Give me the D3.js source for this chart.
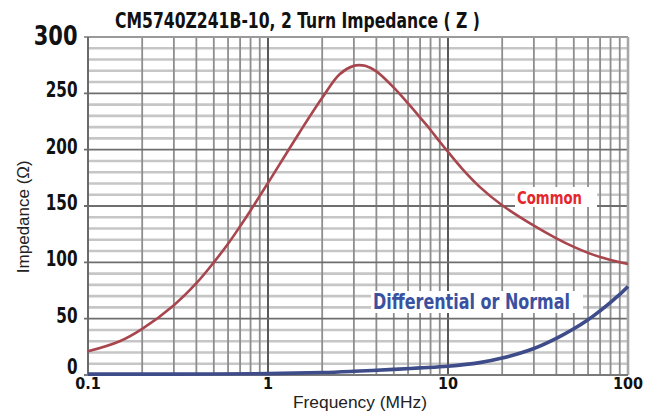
<!DOCTYPE html>
<html>
<head>
<meta charset="utf-8">
<script src="https://cdn.jsdelivr.net/npm/d3@7"></script>
<style>
  html, body { margin: 0; padding: 0; background: #fff; }
  svg { display: block; }
</style>
</head>
<body>
<svg id="chart" width="646" height="415"></svg>
<script>
// ---- data ----
const title = "CM5740Z241B-10, 2 Turn Impedance ( Z )";
const xTickValues = [0.1, 1, 10, 100];
const xTickLabels = ["0.1", "1", "10", "100"];
const yTickValues = [0, 50, 100, 150, 200, 250, 300];
const yTickLabels = ["0", "50", "100", "150", "200", "250", "300"];
const xAxisTitle = "Frequency (MHz)";
const yAxisTitle = "Impedance (\u03A9)";

const freqCommon = [0.1, 0.15, 0.2, 0.3, 0.4, 0.5, 0.6, 0.7, 0.8, 0.9, 1, 1.5, 2, 2.5, 3, 3.2, 3.5, 4, 5, 6, 7, 8, 9, 10, 12, 15, 20, 30, 40, 50, 60, 70, 80, 90, 100];
const common     = [21, 30, 41, 62, 81.5, 100, 116.5, 132, 146, 159, 170.5, 215.5, 246, 267, 274.4, 275, 274.2, 269.5, 255, 241, 228.5, 217.5, 207, 198, 183, 167, 150.6, 132.5, 121.3, 113.7, 108.4, 104.7, 102.1, 100.1, 98.5];

const freqDiff = [0.1, 0.3, 1, 2, 3, 5, 7, 10, 15, 20, 30, 40, 50, 60, 70, 80, 90, 100];
const diff     = [0.8, 0.8, 1.2, 2.2, 3.3, 5, 6.3, 7.8, 11, 15, 23.5, 32.5, 41, 49, 57, 64.5, 71.5, 78.5];

const seriesLabels = ["Common", "Differential or Normal"];

// ---- layout ----
const L = 88, R = 628, T = 37, B = 375;
const svg = d3.select("#chart");
const x = d3.scaleLog().domain([0.1, 100]).range([L, R]);
const y = d3.scaleLinear().domain([0, 300]).range([B, T]);

const NARROW = "'Liberation Sans Narrow', 'DejaVu Sans Condensed', 'Liberation Sans', sans-serif";
const SANS = "'Liberation Sans', Arial, sans-serif";

// ---- grid ----
const g = svg.append("g");
const hMinor = d3.range(0, 301, 10).filter(v => v % 50 !== 0);
const hMajor = d3.range(0, 301, 50);
const vAll = [];
[0.1, 1, 10].forEach(d => { for (let k = 1; k <= 9; k++) vAll.push(d * k); });
vAll.push(100);
const vMajor = [1, 10];
const vMinor = vAll.filter(v => ![0.1, 1, 10, 100].some(m => Math.abs(m - v) < 1e-9));

g.selectAll(".hmin").data(hMinor).join("line")
  .attr("x1", L).attr("x2", R).attr("y1", d => y(d)).attr("y2", d => y(d))
  .attr("stroke", "#c6c6c6").attr("stroke-width", 2.6);
g.selectAll(".vmin").data(vMinor).join("line")
  .attr("x1", d => x(d)).attr("x2", d => x(d)).attr("y1", T).attr("y2", B)
  .attr("stroke", "#8e8e8e").attr("stroke-width", 1.8);
g.selectAll(".vmaj").data(vMajor).join("line")
  .attr("x1", d => x(d)).attr("x2", d => x(d)).attr("y1", T).attr("y2", B)
  .attr("stroke", "#595959").attr("stroke-width", 2);
g.selectAll(".hmaj").data(hMajor.filter(v => v > 0 && v < 300)).join("line")
  .attr("x1", L - 4).attr("x2", R).attr("y1", d => y(d)).attr("y2", d => y(d))
  .attr("stroke", "#6e6e6e").attr("stroke-width", 1.8);
// frame
g.append("line").attr("x1", L - 4).attr("x2", R).attr("y1", T).attr("y2", T).attr("stroke", "#9a9a9a").attr("stroke-width", 2.2);
g.append("line").attr("x1", R).attr("x2", R).attr("y1", T).attr("y2", B).attr("stroke", "#a8a8a8").attr("stroke-width", 2.6);
g.append("line").attr("x1", L).attr("x2", L).attr("y1", T).attr("y2", B).attr("stroke", "#6a6a6a").attr("stroke-width", 2);
g.append("line").attr("x1", L - 4).attr("x2", R).attr("y1", B).attr("y2", B).attr("stroke", "#7a7a7a").attr("stroke-width", 2);

// ---- curves ----
const line = d3.line().x(d => x(d[0])).y(d => y(d[1])).curve(d3.curveCatmullRom.alpha(0.5));
svg.append("path").datum(d3.zip(freqCommon, common)).attr("d", line)
  .attr("fill", "none").attr("stroke", "#a8454d").attr("stroke-width", 2.6);
svg.append("path").datum(d3.zip(freqDiff, diff)).attr("d", line)
  .attr("fill", "none").attr("stroke", "#3e4c8a").attr("stroke-width", 3.6);

// ---- series labels ----
function boxLabel(txt, bx, by, bw, bh, tx, ty, size, len, color) {
  svg.append("rect").attr("x", bx).attr("y", by).attr("width", bw).attr("height", bh).attr("fill", "#fff");
  svg.append("text").attr("x", tx).attr("y", ty).text(txt)
    .attr("font-family", NARROW).attr("font-weight", "bold").attr("font-size", size)
    .attr("textLength", len).attr("lengthAdjust", "spacingAndGlyphs")
    .attr("fill", color);
}
boxLabel(seriesLabels[0], 515, 187, 82, 20, 517, 203.5, 18, 65, "#e5262d");
boxLabel(seriesLabels[1], 371, 291, 212, 22, 373, 308.5, 21, 197, "#3a51a0");

// ---- tick labels ----
svg.selectAll(".ylab").data(yTickValues).join("text")
  .attr("x", 77.5)
  .attr("y", d => y(d) + (d === 0 ? -1.5 : d === 300 ? 8 : 4))
  .attr("text-anchor", "end")
  .attr("font-family", NARROW).attr("font-weight", "bold")
  .attr("font-size", d => d === 300 ? 26 : 21)
  .attr("textLength", (d, i) => yTickLabels[i].length * (d === 300 ? 14.6 : 10.6))
  .attr("lengthAdjust", "spacingAndGlyphs")
  .attr("fill", "#111")
  .text((d, i) => yTickLabels[i]);

svg.selectAll(".xlab").data(xTickValues).join("text")
  .attr("x", d => x(d)).attr("y", 388.5)
  .attr("text-anchor", "middle")
  .attr("font-family", NARROW).attr("font-weight", "bold").attr("font-size", 16)
  .attr("fill", "#111")
  .text((d, i) => xTickLabels[i]);

// ---- titles ----
svg.append("text").attr("x", 115).attr("y", 28.3).text(title)
  .attr("font-family", NARROW).attr("font-weight", "bold").attr("font-size", 21)
  .attr("textLength", 365).attr("lengthAdjust", "spacingAndGlyphs").attr("fill", "#111");

svg.append("text").attr("x", 293).attr("y", 407.5).text(xAxisTitle)
  .attr("font-family", SANS).attr("font-size", 17)
  .attr("textLength", 134).attr("lengthAdjust", "spacingAndGlyphs").attr("fill", "#222");

svg.append("text").attr("transform", "translate(29,216.7) rotate(-90)")
  .attr("text-anchor", "middle").text(yAxisTitle)
  .attr("font-family", SANS).attr("font-size", 17)
  .attr("fill", "#222");
</script>
</body>
</html>
